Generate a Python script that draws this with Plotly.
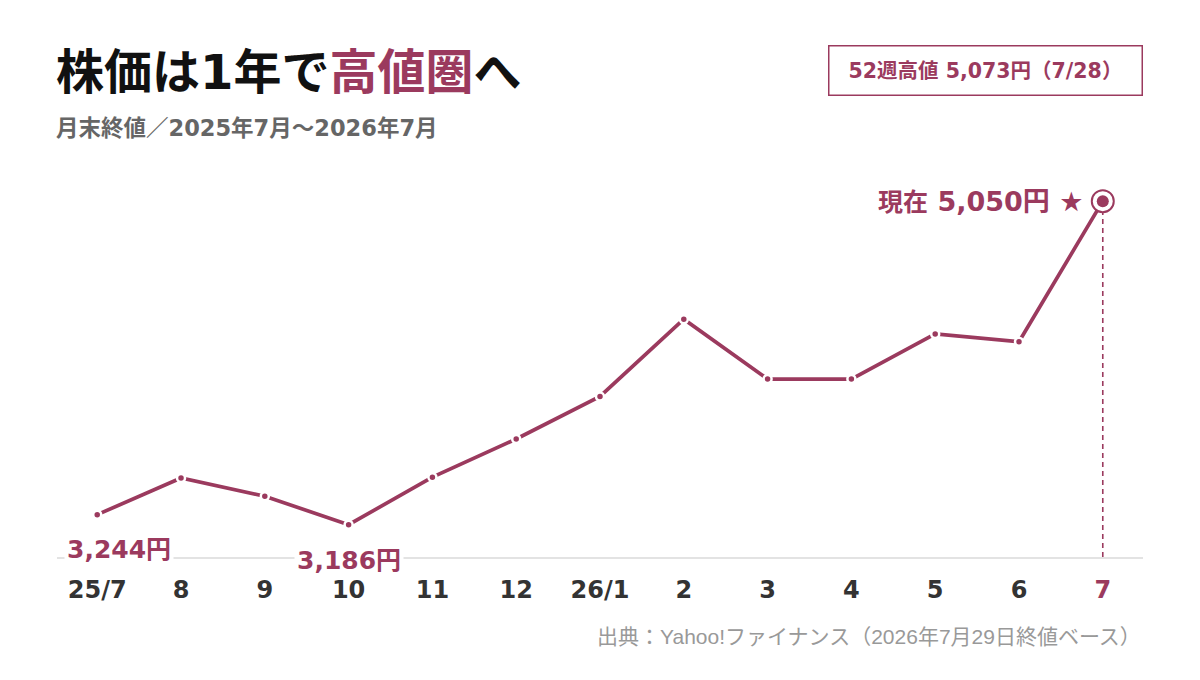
import plotly.graph_objects as go

# 月末終値（円）
MONTHS = ["25/7", "8", "9", "10", "11", "12", "26/1", "2", "3", "4", "5", "6", "7"]
CLOSE_PRICES = [3244, 3455, 3350, 3186, 3460, 3680, 3925, 4370, 4025, 4025, 4285, 4240, 5050]
HIGH_52W = 5073
HIGH_52W_DATE = "7/28"

ACCENT = "#9B3A5E"
FONT = "DejaVu Sans, Noto Sans CJK JP"
FONT_LIGHT = "Liberation Sans, Noto Sans CJK JP"
Y_BASE = 3000

x_idx = list(range(len(MONTHS)))
last_i = x_idx[-1]
low_i = CLOSE_PRICES.index(min(CLOSE_PRICES))

tick_text = [f"<span style='color:{ACCENT}'>{m}</span>" if i == last_i else m
             for i, m in enumerate(MONTHS)]

fig = go.Figure()

# vertical dashed guide under current price
fig.add_shape(
    type="line", xref="x", yref="y",
    x0=last_i, x1=last_i, y0=Y_BASE, y1=CLOSE_PRICES[-1],
    line=dict(color=ACCENT, width=1.6, dash="5px,4px"),
    layer="below",
)

fig.add_trace(go.Scatter(
    x=x_idx, y=CLOSE_PRICES, mode="lines+markers",
    line=dict(color=ACCENT, width=3.7),
    marker=dict(size=8, color=ACCENT, line=dict(color="white", width=2.5)),
    hoverinfo="skip",
))

# current point: ring + dot
fig.add_trace(go.Scatter(
    x=[last_i], y=[CLOSE_PRICES[-1]], mode="markers",
    marker=dict(size=22, color="white", line=dict(color=ACCENT, width=2)),
    hoverinfo="skip",
))
fig.add_trace(go.Scatter(
    x=[last_i], y=[CLOSE_PRICES[-1]], mode="markers",
    marker=dict(size=12, color=ACCENT),
    hoverinfo="skip",
))

# value labels
fig.add_annotation(
    x=0, y=Y_BASE, xref="x", yref="y", text=f"{CLOSE_PRICES[0]:,}円",
    showarrow=False, xanchor="left", yanchor="middle", xshift=-33, yshift=8,
    font=dict(family=FONT, size=25, color=ACCENT, weight="bold"),
    bgcolor="white", borderpad=2,
)
fig.add_annotation(
    x=low_i, y=Y_BASE, xref="x", yref="y", text=f"{CLOSE_PRICES[low_i]:,}円",
    showarrow=False, xanchor="center", yanchor="middle", yshift=-3,
    font=dict(family=FONT, size=25, color=ACCENT, weight="bold"),
    bgcolor="white", borderpad=2,
)
fig.add_annotation(
    x=last_i, y=CLOSE_PRICES[-1], xref="x", yref="y",
    text=f"<span style='font-size:25px'>現在</span> {CLOSE_PRICES[-1]:,}円 ★",
    showarrow=False, xanchor="right", yanchor="middle", xshift=-18,
    font=dict(family=FONT, size=27, color=ACCENT, weight="bold"),
)

# title / subtitle
fig.add_annotation(
    x=0, y=1.222, xref="paper", yref="paper", xanchor="left", yanchor="middle",
    xshift=-3,
    text=f"株価は1年で<span style='color:{ACCENT}'>高値圏</span>へ",
    showarrow=False,
    font=dict(family=FONT, size=48, color="#111111", weight="bold"),
)
fig.add_annotation(
    x=0, y=1.081, xref="paper", yref="paper", xanchor="left", yanchor="middle",
    xshift=-3,
    text="月末終値／2025年7月〜2026年7月",
    showarrow=False,
    font=dict(family=FONT, size=22.5, color="#666666", weight="bold"),
)

# 52-week high box
fig.add_annotation(
    x=1, y=1.2255, xref="paper", yref="paper", xanchor="right", yanchor="middle",
    text=f"52週高値 {HIGH_52W:,}円（{HIGH_52W_DATE}）",
    showarrow=False, width=310, height=46,
    bordercolor=ACCENT, borderwidth=1.5, bgcolor="white",
    font=dict(family=FONT, size=20.5, color=ACCENT, weight="bold"),
)

# source
fig.add_annotation(
    x=1, y=-0.199, xref="paper", yref="paper", xanchor="right", yanchor="middle",
    text="出典：Yahoo!ファイナンス（2026年7月29日終値ベース）",
    showarrow=False,
    font=dict(family=FONT_LIGHT, size=21, color="#999999"),
)

# the page body adds an 8px offset, margins compensate for it
fig.update_layout(
    width=1200, height=680,
    margin=dict(l=49, r=65, t=152, b=131),
    paper_bgcolor="white", plot_bgcolor="white",
    showlegend=False,
    xaxis=dict(
        range=[-0.48, 12.48], tickvals=x_idx, ticktext=tick_text,
        showgrid=False, zeroline=False,
        showline=True, linecolor="#e3e3e3", linewidth=1.5,
        ticks="", ticklabelstandoff=10,
        tickfont=dict(family=FONT, size=24, color="#333333", weight="bold"),
        fixedrange=True,
    ),
    yaxis=dict(
        range=[Y_BASE, 5287], showgrid=False, zeroline=False,
        showticklabels=False, showline=False, fixedrange=True,
    ),
)

fig.write_html("out.html")
